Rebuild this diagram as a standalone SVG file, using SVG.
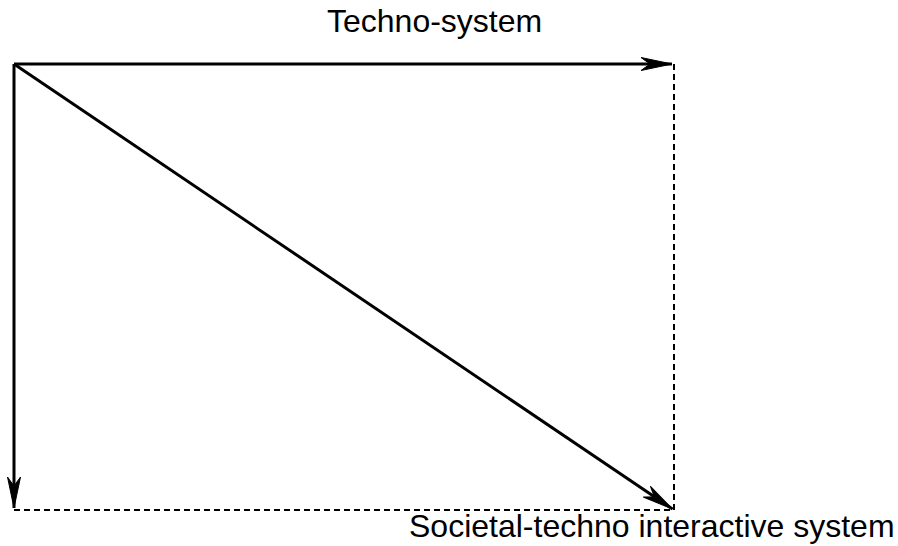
<svg xmlns="http://www.w3.org/2000/svg" width="898" height="546" viewBox="0 0 898 546">
<style>
.solid{stroke:#000;stroke-width:3;fill:none}
.dash{stroke:#000;stroke-width:2;fill:none;stroke-dasharray:6,4}
.lbl{font-family:"Liberation Sans",Arial,sans-serif;font-size:32px;fill:#000}
</style>
<defs>
<marker id="ah" markerUnits="userSpaceOnUse" viewBox="-32 -8 34 16" refX="0" refY="0" markerWidth="34" markerHeight="16" orient="auto">
<path d="M0,0 L-31,-6.5 L-22,0 L-31,6.5 Z" fill="#000" stroke="#000" stroke-width="1" stroke-linejoin="miter"/>
</marker>
</defs>
<g id="connectors">
<line class="dash" x1="674" y1="64" x2="674" y2="510"/>
<line class="dash" x1="14" y1="510" x2="674" y2="510"/>
<line class="solid" x1="14" y1="64" x2="672" y2="64" marker-end="url(#ah)"/>
<line class="solid" x1="14" y1="64" x2="14" y2="508" marker-end="url(#ah)"/>
<line class="solid" x1="14" y1="64" x2="672.5" y2="509" marker-end="url(#ah)"/>
</g>
<g id="label-techno">
<text class="lbl" x="327" y="32">Techno-system</text>
</g>
<g id="label-societal">
<text class="lbl" x="409" y="537">Societal-techno interactive system</text>
</g>
</svg>
